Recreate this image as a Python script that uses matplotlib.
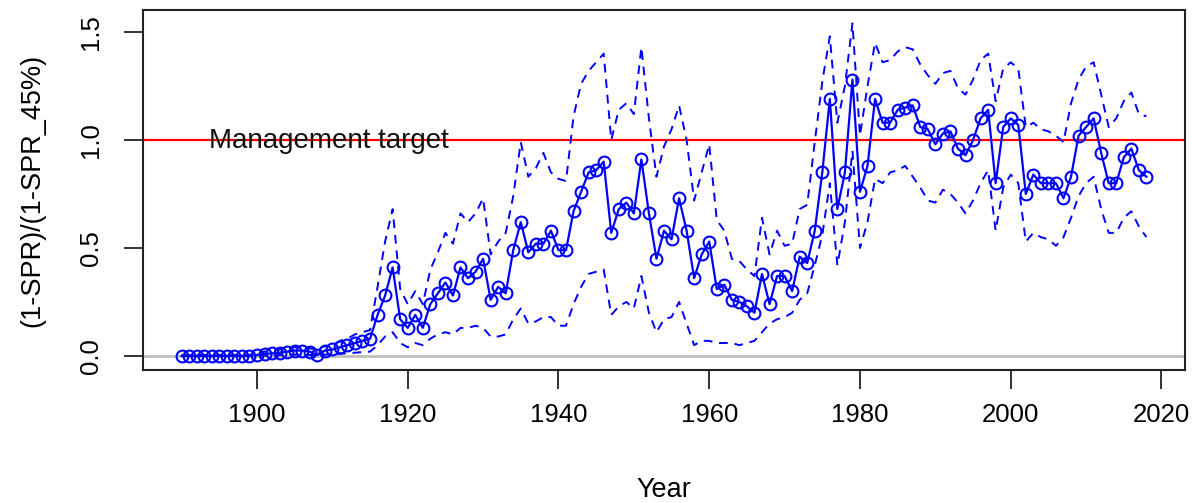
import numpy as np
import matplotlib
matplotlib.use("Agg")
import matplotlib.pyplot as plt

plt.rcParams['font.family'] = ['Liberation Sans', 'DejaVu Sans']

years = np.arange(1890, 2019)

ratio = [
    0.0, 0.0, 0.0, 0.0, 0.0, 0.0, 0.0, 0.0, 0.0, 0.0,
    0.005, 0.01, 0.012, 0.015, 0.02, 0.025, 0.025, 0.02, 0.005, 0.025,
    0.03, 0.04, 0.05, 0.06, 0.07, 0.08, 0.19, 0.28, 0.41, 0.17,
    0.13, 0.19, 0.13, 0.24, 0.29, 0.34, 0.28, 0.41, 0.36, 0.39,
    0.45, 0.26, 0.32, 0.29, 0.49, 0.62, 0.48, 0.52, 0.52, 0.58,
    0.49, 0.49, 0.67, 0.76, 0.85, 0.86, 0.90, 0.57, 0.68, 0.71,
    0.66, 0.91, 0.66, 0.45, 0.58, 0.54, 0.73, 0.58, 0.36, 0.47,
    0.53, 0.31, 0.33, 0.26, 0.25, 0.23, 0.20, 0.38, 0.24, 0.37,
    0.37, 0.30, 0.46, 0.43, 0.58, 0.85, 1.19, 0.68, 0.85, 1.28,
    0.76, 0.88, 1.19, 1.08, 1.08, 1.14, 1.15, 1.16, 1.06, 1.05,
    0.98, 1.03, 1.04, 0.96, 0.93, 1.00, 1.10, 1.14, 0.80, 1.06,
    1.10, 1.07, 0.75, 0.84, 0.80, 0.80, 0.80, 0.73, 0.83, 1.02,
    1.06, 1.10, 0.94, 0.80, 0.80, 0.92, 0.96, 0.86, 0.83,
]

upper = [
    0.005, 0.005, 0.005, 0.005, 0.005, 0.005, 0.005, 0.005, 0.005, 0.005,
    0.01, 0.02, 0.025, 0.03, 0.035, 0.04, 0.04, 0.035, 0.03, 0.045,
    0.05, 0.07, 0.08, 0.10, 0.11, 0.12, 0.32, 0.53, 0.68, 0.31,
    0.24, 0.30, 0.24, 0.40, 0.48, 0.57, 0.52, 0.66, 0.62, 0.66,
    0.73, 0.47, 0.53, 0.57, 0.74, 0.99, 0.83, 0.87, 0.94, 0.85,
    0.82, 0.81, 1.11, 1.26, 1.32, 1.36, 1.40, 1.00, 1.14, 1.17,
    1.12, 1.43, 1.10, 0.83, 0.97, 1.05, 1.16, 1.00, 0.72, 0.85,
    0.98, 0.63, 0.58, 0.45, 0.44, 0.40, 0.37, 0.64, 0.47, 0.58,
    0.51, 0.52, 0.68, 0.70, 0.99, 1.27, 1.48, 1.08, 1.25, 1.54,
    1.02, 1.25, 1.45, 1.36, 1.37, 1.41, 1.43, 1.42, 1.35, 1.30,
    1.26, 1.31, 1.32, 1.24, 1.21, 1.28, 1.37, 1.40, 1.18, 1.33,
    1.36, 1.33, 1.06, 1.08, 1.05, 1.04, 1.02, 0.99, 1.17, 1.28,
    1.34, 1.36, 1.21, 1.06, 1.10, 1.18, 1.22, 1.12, 1.11,
]

lower = [
    0.0, 0.0, 0.0, 0.0, 0.0, 0.0, 0.0, 0.0, 0.0, 0.0,
    0.001, 0.002, 0.003, 0.004, 0.005, 0.006, 0.006, 0.005, 0.001, 0.006,
    0.008, 0.01, 0.012, 0.015, 0.018, 0.02, 0.05, 0.09, 0.11, 0.06,
    0.04, 0.06, 0.05, 0.08, 0.10, 0.11, 0.10, 0.13, 0.13, 0.14,
    0.13, 0.09, 0.09, 0.10, 0.17, 0.22, 0.15, 0.16, 0.18, 0.18,
    0.14, 0.14, 0.24, 0.32, 0.38, 0.39, 0.40, 0.19, 0.23, 0.25,
    0.22, 0.37, 0.20, 0.11, 0.17, 0.18, 0.25, 0.15, 0.05, 0.07,
    0.07, 0.06, 0.06, 0.06, 0.05, 0.06, 0.07, 0.11, 0.15, 0.17,
    0.18, 0.20, 0.26, 0.29, 0.42, 0.56, 0.80, 0.42, 0.62, 0.95,
    0.50, 0.62, 0.82, 0.80, 0.85, 0.86, 0.88, 0.83, 0.78, 0.72,
    0.71, 0.77, 0.75, 0.71, 0.66, 0.72, 0.80, 0.86, 0.58, 0.78,
    0.84, 0.80, 0.53, 0.57, 0.55, 0.54, 0.51, 0.55, 0.64, 0.74,
    0.80, 0.83, 0.68, 0.57, 0.57, 0.64, 0.67, 0.60, 0.55,
]

target = 1.0

fig = plt.figure(figsize=(11.98, 5.03), dpi=100)
ax = fig.add_axes([143/1198, 1 - 370/503, (1185 - 143)/1198, 360/503])

ax.axhline(0, color='#bebebe', lw=2, zorder=1)
ax.axhline(target, color='red', lw=1.6, zorder=2)

ax.plot(years, upper, color='blue', lw=1.4, dashes=(4.5, 3.5), zorder=3)
ax.plot(years, lower, color='blue', lw=1.4, dashes=(4.5, 3.5), zorder=3)
ax.plot(years, ratio, color='blue', lw=1.6, marker='o', ms=8.5,
        mfc='none', mec='blue', mew=1.5, zorder=4)

ax.text(1893.6, 0.963, "Management target", fontsize=20, color='#111111',
        ha='left', va='baseline', zorder=5)

ax.set_xlim(1884.88, 2023.12)
ax.set_ylim(-0.065, 1.602)
ax.set_xticks([1900, 1920, 1940, 1960, 1980, 2000, 2020])
ax.set_yticks([0, 0.5, 1.0, 1.5])
ax.set_yticklabels(["0.0", "0.5", "1.0", "1.5"], rotation=90, va='center')
ax.tick_params(axis='both', direction='out', length=14, width=1.3,
               labelsize=18.5, color='#222222')
ax.tick_params(axis='x', pad=10)
ax.tick_params(axis='y', pad=15)
for s in ax.spines.values():
    s.set_linewidth(1.5)
    s.set_color('#222222')

ax.set_xlabel("Year", fontsize=19.5, labelpad=36)
ax.set_ylabel("(1-SPR)/(1-SPR_45%)", fontsize=19.5, labelpad=24)

fig.savefig("out.png", dpi=100)
